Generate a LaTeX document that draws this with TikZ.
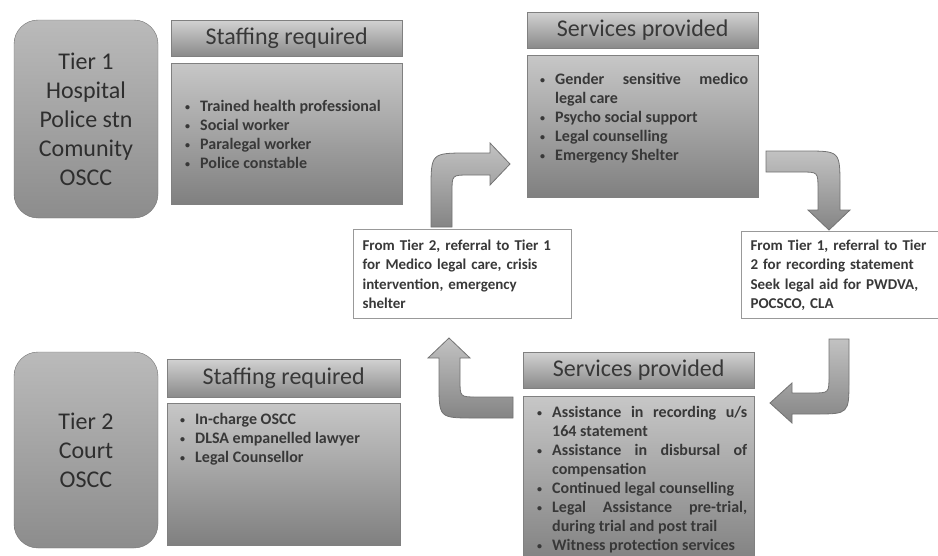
\documentclass[tikz,border=0pt]{standalone}
\usepackage{fontspec}
\setmainfont{Carlito}
\usetikzlibrary{positioning}
\hbadness=10000
\tolerance=9999
% one bullet line with a hanging indent
\newcommand{\bitem}[1]{\par\hangindent=15pt\hangafter=1\noindent\makebox[15pt][l]{\raisebox{0.15ex}{\fontsize{10}{10}\selectfont\textbullet}}#1\par}
\tikzset{
	tierbox/.style={draw=black!55, rounded corners=24pt, top color=black!27, bottom color=black!45, minimum width=144pt, align=center, font=\fontsize{24}{29}\selectfont, text=black!82}, % the two tier blocks
	headbox/.style={draw=black!50, top color=black!18, bottom color=black!46, anchor=north west, minimum width=231pt, minimum height=36pt, inner sep=0pt, font=\fontsize{24}{28}\selectfont, text=black!78}, % titles over the lists
	bodybox/.style={draw=black!50, top color=black!22, bottom color=black!50, anchor=north west, minimum width=231pt, inner sep=0pt},
	listtext/.style={inner sep=0pt, anchor=north west, font=\fontsize{16}{19}\selectfont\bfseries, text=black!78},
	referbox/.style={draw=black!40, line width=1.2pt, fill=white, anchor=north west, inner xsep=9pt, align=left, font=\fontsize{15}{19.5}\selectfont\bfseries, text=black!78},
	blockarrow/.style={draw=black!55, line width=0.8pt, top color=black!24, bottom color=black!48},
}
\begin{document}
\begin{tikzpicture}[x=1pt,y=-1pt]
\useasboundingbox (0,0) rectangle (938,555);

% tier 1
\node[tierbox, minimum height=198pt] (tier1) at (86,119) {Tier 1\\Hospital\\Police stn\\Comunity\\OSCC};
\node[headbox] (staff1) at (171,20) {Staffing required};
\node[bodybox, minimum height=141pt] (staff1body) at (171,63) {};
\node[listtext] (staff1list) at (185,100) {\parbox[t]{210pt}{%
	\bitem{Trained health professional}
	\bitem{Social worker}
	\bitem{Paralegal worker}
	\bitem{Police constable}}};

\node[headbox] (serv1) at (527,12) {Services provided};
\node[bodybox, minimum height=142pt] (serv1body) at (527,55) {};
\node[listtext] (serv1list) at (540,73) {\parbox[t]{208pt}{%
	\bitem{Gender sensitive medico\linebreak legal care}
	\bitem{Psycho social support}
	\bitem{Legal counselling}
	\bitem{Emergency Shelter}}};

% referral notes
\node[referbox, text width=200pt, minimum height=89pt] (refer21) at (353,229) {From Tier 2, referral to Tier 1\\for Medico legal care, crisis\\intervention, emergency\\shelter};
\node[referbox, text width=200pt, minimum height=87pt] (refer12) at (741,231) {From Tier 1, referral to Tier\\2 for recording statement\\Seek legal aid for PWDVA,\\POCSCO, CLA};

% tier 2
\node[tierbox, minimum height=196pt] (tier2) at (86,450) {Tier 2\\Court\\OSCC};
\node[headbox, minimum width=233pt, minimum height=38pt] (staff2) at (167,359) {Staffing required};
\node[bodybox, minimum width=233pt, minimum height=142pt] (staff2body) at (167,403) {};
\node[listtext] (staff2list) at (180,413) {\parbox[t]{210pt}{%
	\bitem{In-charge OSCC}
	\bitem{DLSA empanelled lawyer}
	\bitem{Legal Counsellor}}};

\node[headbox] (serv2) at (523,352) {Services provided};
\node[bodybox, minimum height=170pt] (serv2body) at (523,396) {};
\node[listtext] (serv2list) at (537,406) {\parbox[t]{210pt}{%
	\bitem{Assistance in recording u/s\linebreak 164 statement}
	\bitem{Assistance in disbursal of\linebreak compensation}
	\bitem{Continued legal counselling}
	\bitem{Legal Assistance pre-trial,\linebreak during trial and post trail}
	\bitem{Witness protection services}}};

% bent arrows round the cycle
\path[blockarrow] (431,227) -- (431,190) .. controls (431,153) .. (468,153) -- (490,153) -- (490,143)
	-- (510,164) -- (490,185) -- (490,175) -- (469,175) .. controls (452,175) .. (452,192) -- (452,227) -- cycle;
\path[blockarrow] (766,151) -- (805,151) .. controls (840,151) .. (840,186) -- (840,210) -- (850,210)
	-- (829,230) -- (808,210) -- (818,210) -- (818,189) .. controls (818,172) .. (801,172) -- (766,172) -- cycle;
\path[blockarrow] (829,339) -- (849,339) -- (849,380) .. controls (849,414) .. (815,414) -- (792,414) -- (792,423)
	-- (770,403) -- (792,383) -- (792,393) -- (812,393) .. controls (829,393) .. (829,376) -- cycle;
\path[blockarrow] (513,397) -- (477,397) .. controls (460,397) .. (460,380) -- (460,358) -- (470,358)
	-- (449,338) -- (428,358) -- (439,358) -- (439,383) .. controls (439,418) .. (474,418) -- (513,418) -- cycle;
\end{tikzpicture}
\end{document}
